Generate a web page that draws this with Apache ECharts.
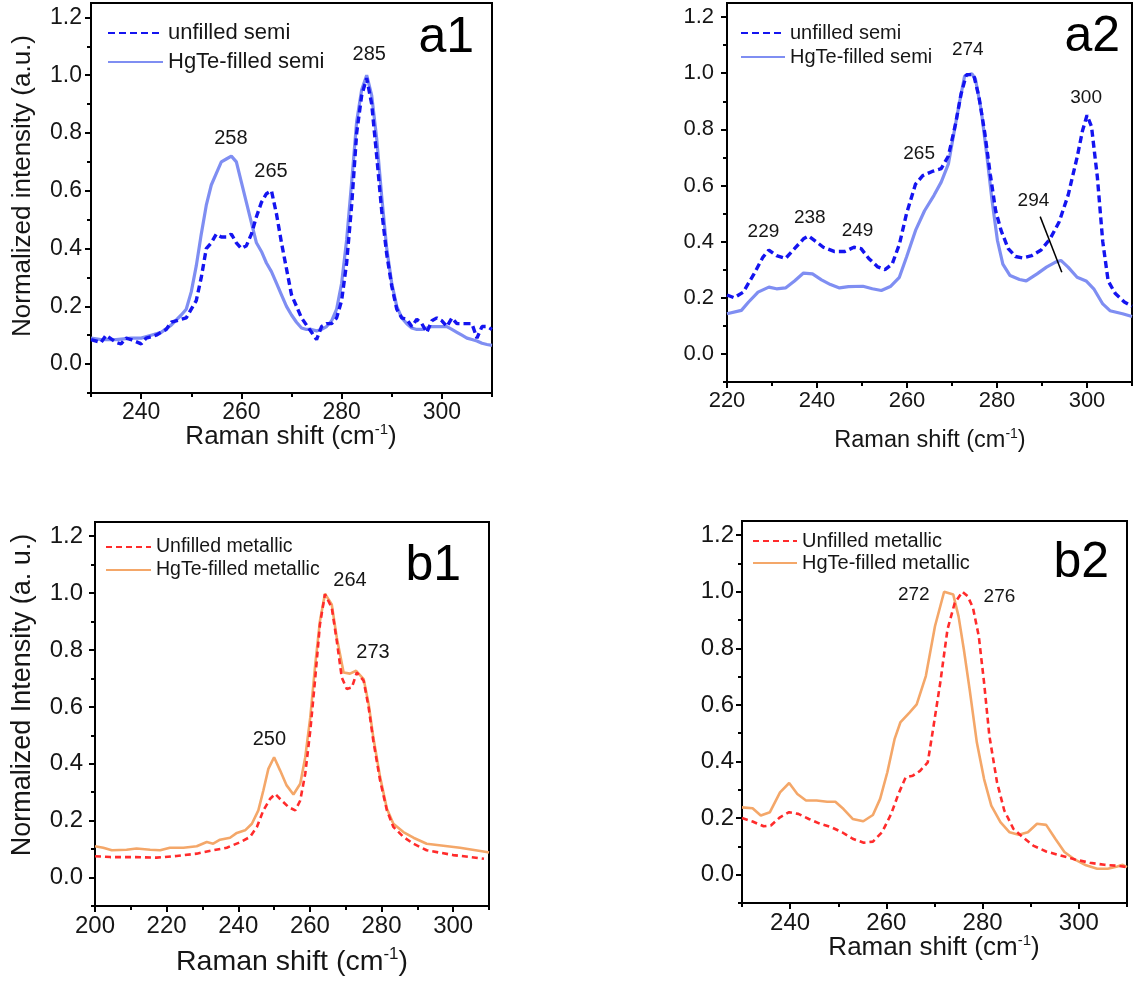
<!DOCTYPE html>
<html>
<head>
<meta charset="utf-8">
<title>Raman spectra of unfilled and HgTe-filled nanotubes</title>
<script src="https://cdn.jsdelivr.net/npm/echarts@6/dist/echarts.min.js"></script>
<style>
  html, body { margin: 0; padding: 0; background: #fff; }
  #chart { width: 1133px; height: 981px; }
</style>
</head>
<body>
<div id="chart"></div>
<script>
// ---------------- spectra: [Raman shift (cm-1), normalized intensity] ----------------
const a1Unfilled = [[230,0.085],[232,0.075],[233,0.10],[235,0.075],[236,0.07],[237,0.09],[238,0.085],[240,0.07],[241,0.09],[243,0.10],[245,0.12],[246,0.145],[248,0.155],[249,0.16],[250,0.19],[251,0.22],[252,0.30],[253,0.40],[254,0.42],[255,0.45],[256,0.44],[257,0.44],[258,0.45],[259,0.42],[260,0.40],[261,0.41],[262,0.45],[263,0.51],[264,0.56],[265,0.59],[266,0.60],[267,0.52],[268,0.42],[269,0.33],[270,0.24],[271,0.20],[272,0.16],[273,0.135],[274,0.11],[275,0.085],[276,0.13],[277,0.14],[278,0.14],[279,0.16],[280,0.22],[281,0.35],[282,0.55],[283,0.80],[284,0.93],[285,0.99],[286,0.90],[287,0.72],[288,0.53],[289,0.38],[290,0.27],[291,0.19],[292,0.16],[293,0.155],[294,0.13],[295,0.155],[296,0.14],[297,0.11],[298,0.15],[299,0.16],[300,0.15],[301,0.13],[302,0.16],[303,0.14],[304,0.14],[305,0.14],[306,0.14],[307,0.09],[308,0.13],[309,0.13],[310,0.12]];
const a1Filled = [[230,0.09],[232,0.085],[235,0.085],[238,0.09],[240,0.09],[242,0.10],[244,0.11],[246,0.135],[248,0.17],[249,0.19],[250,0.25],[251,0.34],[252,0.45],[253,0.55],[254,0.62],[255,0.66],[256,0.70],[257,0.71],[258,0.72],[259,0.70],[260,0.63],[261,0.56],[262,0.49],[263,0.42],[264,0.39],[265,0.35],[266,0.32],[267,0.28],[268,0.24],[269,0.20],[270,0.17],[271,0.145],[272,0.125],[273,0.12],[274,0.12],[275,0.115],[276,0.12],[277,0.13],[278,0.15],[279,0.19],[280,0.28],[281,0.43],[282,0.63],[283,0.84],[284,0.95],[285,1.0],[286,0.93],[287,0.78],[288,0.58],[289,0.40],[290,0.28],[291,0.20],[292,0.16],[293,0.14],[294,0.125],[295,0.12],[296,0.12],[297,0.125],[298,0.13],[299,0.13],[300,0.13],[301,0.13],[302,0.12],[303,0.11],[304,0.10],[305,0.09],[306,0.085],[307,0.08],[308,0.072],[309,0.068],[310,0.065]];

const a2Unfilled = [[220,0.21],[221.6,0.20],[223.6,0.22],[226,0.285],[228,0.345],[229.3,0.37],[231,0.35],[233,0.34],[235,0.375],[237,0.41],[238.1,0.42],[239.8,0.40],[241.4,0.38],[243.8,0.365],[246.2,0.365],[248.2,0.38],[249.8,0.375],[251.5,0.34],[253.5,0.31],[255.1,0.30],[256.7,0.32],[258.3,0.39],[259.9,0.50],[261.9,0.605],[263.5,0.635],[265.6,0.65],[267.6,0.66],[269.2,0.705],[270.8,0.82],[272,0.925],[273.2,0.995],[274.8,0.995],[276,0.915],[277.3,0.785],[278.5,0.64],[279.7,0.51],[280.9,0.44],[282.5,0.375],[284.1,0.347],[285.7,0.342],[287.7,0.35],[289.8,0.37],[291.8,0.41],[293.8,0.47],[295.8,0.565],[297.8,0.70],[299,0.795],[300,0.85],[301,0.81],[302.3,0.63],[303.5,0.40],[304.7,0.26],[306.3,0.215],[308.3,0.185],[310,0.17]];
const a2Filled = [[220,0.143],[223.2,0.155],[224.8,0.185],[226.9,0.22],[229.3,0.238],[231,0.232],[233,0.235],[235,0.26],[237,0.288],[239,0.285],[241,0.264],[243,0.247],[245,0.235],[247,0.24],[250.2,0.241],[252.3,0.232],[254.3,0.226],[256.3,0.24],[258.3,0.273],[259.9,0.345],[261.9,0.44],[263.9,0.51],[266,0.565],[267.6,0.612],[269.2,0.677],[270.4,0.784],[271.6,0.89],[272.8,0.99],[274.4,0.998],[275.2,0.98],[276.5,0.867],[277.7,0.713],[278.9,0.546],[280.1,0.404],[281.3,0.32],[282.9,0.279],[285,0.265],[286.5,0.26],[288.9,0.285],[291,0.309],[293,0.327],[294.2,0.333],[295.8,0.309],[297.8,0.273],[299.8,0.26],[301.5,0.232],[303.5,0.178],[305.1,0.154],[307.9,0.143],[310,0.133]];

const b1Unfilled = [[200,0.075],[204.2,0.072],[210.7,0.072],[217.2,0.07],[222.8,0.076],[228.4,0.084],[233,0.096],[236.8,0.105],[240.5,0.124],[243.3,0.143],[245.2,0.178],[247,0.236],[248.9,0.277],[250.3,0.294],[252.1,0.271],[254,0.248],[255.9,0.236],[257.3,0.271],[258.7,0.365],[260.1,0.516],[261.5,0.703],[262.8,0.89],[264.2,0.996],[266.1,0.949],[267.5,0.832],[268.9,0.703],[270.3,0.663],[271.7,0.668],[273.1,0.721],[275,0.692],[276.4,0.598],[277.7,0.481],[279.6,0.341],[281.5,0.236],[283.3,0.178],[286.1,0.143],[288.9,0.119],[292.6,0.096],[300,0.079],[305,0.072],[308.6,0.066]];
const b1Filled = [[200,0.11],[202.3,0.105],[204.7,0.096],[208.8,0.098],[211.6,0.102],[215.4,0.098],[218.2,0.096],[220.9,0.105],[224.7,0.105],[228.4,0.11],[231.2,0.125],[233,0.119],[234.9,0.133],[237.7,0.14],[239.6,0.157],[241.9,0.166],[243.8,0.189],[245.6,0.236],[247,0.306],[248.4,0.382],[250,0.423],[251.7,0.376],[253.5,0.324],[255.4,0.292],[257.3,0.33],[258.7,0.423],[260.1,0.563],[261.5,0.75],[262.8,0.902],[264.2,0.998],[266.1,0.96],[267.5,0.844],[269.4,0.721],[271.2,0.717],[272.9,0.727],[275,0.698],[276.4,0.61],[277.7,0.493],[279.6,0.353],[281.5,0.242],[283.3,0.189],[286.1,0.16],[288.9,0.14],[292.6,0.119],[301.9,0.105],[309.3,0.09],[310,0.088]];

const b2Unfilled = [[230,0.2],[232.2,0.188],[234.5,0.171],[236,0.174],[237.9,0.203],[239.8,0.221],[241.7,0.215],[243.9,0.197],[246.2,0.18],[248.5,0.168],[250.8,0.15],[253,0.127],[255.3,0.113],[257.2,0.117],[259.1,0.15],[261,0.215],[262.5,0.285],[264,0.344],[265.5,0.35],[267,0.367],[268.6,0.397],[269.7,0.514],[271.2,0.679],[272.7,0.867],[274.2,0.96],[275.8,1.0],[276.9,0.984],[278,0.943],[279.2,0.843],[280.3,0.679],[281.4,0.491],[283,0.326],[284.5,0.227],[286.4,0.162],[288.3,0.133],[290.5,0.103],[293.2,0.082],[296.2,0.068],[299.2,0.054],[302.3,0.042],[305.3,0.035],[308.3,0.031],[310,0.027]];
const b2Filled = [[230,0.238],[232.2,0.235],[233.9,0.209],[235.8,0.221],[237.9,0.291],[239.8,0.324],[241.5,0.285],[243.3,0.262],[245.5,0.262],[247.7,0.258],[249.4,0.258],[251.1,0.232],[253,0.197],[255.2,0.189],[257.2,0.211],[258.7,0.268],[260.2,0.362],[261.7,0.479],[262.9,0.538],[264.8,0.573],[266.3,0.602],[268.2,0.702],[270.1,0.878],[272,1.0],[273.9,0.99],[275,0.913],[276.1,0.796],[277.3,0.655],[278.8,0.467],[280.3,0.338],[281.8,0.244],[283.7,0.186],[285.6,0.15],[287.5,0.141],[289.4,0.15],[291.3,0.18],[293.2,0.176],[295.1,0.127],[297,0.08],[299.2,0.053],[301.5,0.033],[303.8,0.021],[306,0.021],[308,0.029],[309.1,0.035],[310,0.027]];

// ---------------- peak assignments (cm-1) ----------------
const a1Peaks = [258, 265, 285];
const a2Peaks = [229, 238, 249, 265, 274, 294, 300];
const b1Peaks = [250, 264, 273];
const b2Peaks = [272, 276];

// ---------------- tick labels ----------------
const yTicks = [0, 0.2, 0.4, 0.6, 0.8, 1.0, 1.2];
const yMinorTicks = [-0.1, 0.1, 0.3, 0.5, 0.7, 0.9, 1.1];
const xTicksA = [240, 260, 280, 300];
const xMinorA1 = [230, 250, 270, 290, 310];
const xTicksA2 = [220, 240, 260, 280, 300];
const xMinorA2 = [230, 250, 270, 290, 310];
const xTicksB1 = [200, 220, 240, 260, 280, 300];
const xMinorB1 = [210, 230, 250, 270, 290, 310];
const xTicksB2 = [240, 260, 280, 300];
const xMinorB2 = [230, 250, 270, 290, 310];

// ---------------- styling ----------------
const FONT = '"Liberation Sans", Arial, Helvetica, sans-serif';
const INK = '#161616';
const STYLES = {
  dashBlue:   { color: '#1414f0', width: 3.4, type: [7, 4] },
  solidBlue:  { color: '#7f8ef2', width: 3.2, type: 'solid' },
  dashRed:    { color: '#ff2b2b', width: 2.6, type: [6, 4] },
  solidOrange:{ color: '#f4a769', width: 2.6, type: 'solid' }
};

// label anchors for the peak numbers, in data coordinates
const panels = [
  {
    grid: { left: 91, top: 3, width: 401, height: 390 },
    xMin: 230, xMax: 310, xTicks: xTicksA, xMinor: xMinorA1,
    tickFont: 23, yLabelMargin: 9, xLabelMargin: 8,
    series: [
      { name: 'unfilled semi', data: a1Unfilled, style: 'dashBlue' },
      { name: 'HgTe-filled semi', data: a1Filled, style: 'solidBlue' }
    ],
    legend: { left: 107, top: 22, fontSize: 22, itemWidth: 55, gap: 7 },
    peaks: a1Peaks, peakAt: [[257.9, 0.78], [265.9, 0.666], [285.5, 1.072]], peakFont: 20
  },
  {
    grid: { left: 727, top: 3, width: 405, height: 379 },
    xMin: 220, xMax: 310, xTicks: xTicksA2, xMinor: xMinorA2,
    tickFont: 22, yLabelMargin: 13, xLabelMargin: 8,
    series: [
      { name: 'unfilled semi', data: a2Unfilled, style: 'dashBlue' },
      { name: 'HgTe-filled semi', data: a2Filled, style: 'solidBlue' }
    ],
    legend: { left: 740, top: 23, fontSize: 20, itemWidth: 44, gap: 4 },
    peaks: a2Peaks,
    peakAt: [[228.1, 0.434], [238.4, 0.485], [249, 0.437], [262.7, 0.713], [273.5, 1.083], [288.1, 0.546], [299.8, 0.912]],
    peakFont: 19,
    pointer: [[289.6, 0.489], [294.4, 0.291]]
  },
  {
    grid: { left: 95, top: 522, width: 394, height: 384 },
    xMin: 200, xMax: 310, xTicks: xTicksB1, xMinor: xMinorB1,
    tickFont: 24, yLabelMargin: 12, xLabelMargin: 8,
    series: [
      { name: 'Unfilled metallic', data: b1Unfilled, style: 'dashRed' },
      { name: 'HgTe-filled metallic', data: b1Filled, style: 'solidOrange' }
    ],
    legend: { left: 105, top: 537, fontSize: 19.5, itemWidth: 45, gap: 3 },
    peaks: b1Peaks, peakAt: [[248.7, 0.487], [271.2, 1.045], [277.6, 0.791]], peakFont: 20
  },
  {
    grid: { left: 742, top: 521, width: 385, height: 382 },
    xMin: 230, xMax: 310, xTicks: xTicksB2, xMinor: xMinorB2,
    tickFont: 24, yLabelMargin: 8, xLabelMargin: 8,
    series: [
      { name: 'Unfilled metallic', data: b2Unfilled, style: 'dashRed' },
      { name: 'HgTe-filled metallic', data: b2Filled, style: 'solidOrange' }
    ],
    legend: { left: 752, top: 531, fontSize: 20, itemWidth: 44, gap: 2 },
    peaks: b2Peaks, peakAt: [[265.7, 0.99], [283.5, 0.984]], peakFont: 19
  }
];

const option = {
  backgroundColor: '#ffffff',
  animation: false,
  textStyle: { fontFamily: FONT, color: INK },
  grid: [], xAxis: [], yAxis: [], legend: [], series: [], graphic: []
};

panels.forEach((p, i) => {
  option.grid.push(Object.assign({
    show: true, borderColor: '#000', borderWidth: 2, backgroundColor: 'transparent'
  }, p.grid));

  const axisLine = { show: true, onZero: false, lineStyle: { color: '#000', width: 2 } };
  const hiddenLine = { show: false, onZero: false };
  // main x axis: labelled ticks
  option.xAxis.push({
    type: 'value', gridIndex: i, min: p.xMin, max: p.xMax, position: 'bottom',
    axisLine,
    axisTick: { show: true, inside: false, length: 6, customValues: p.xTicks, lineStyle: { color: '#000', width: 2 } },
    axisLabel: { show: true, customValues: p.xTicks, margin: p.xLabelMargin, fontSize: p.tickFont, fontFamily: FONT, color: INK },
    splitLine: { show: false }
  });
  // minor x ticks
  option.xAxis.push({
    type: 'value', gridIndex: i, min: p.xMin, max: p.xMax, position: 'bottom',
    axisLine: hiddenLine,
    axisTick: { show: true, inside: false, length: 4, customValues: p.xMinor, lineStyle: { color: '#000', width: 2 } },
    axisLabel: { show: false },
    splitLine: { show: false }
  });
  // main y axis
  option.yAxis.push({
    type: 'value', gridIndex: i, min: -0.1, max: 1.25, position: 'left',
    axisLine,
    axisTick: { show: true, inside: false, length: 6, customValues: yTicks, lineStyle: { color: '#000', width: 2 } },
    axisLabel: { show: true, customValues: yTicks, margin: p.yLabelMargin, fontSize: p.tickFont, fontFamily: FONT, color: INK,
      formatter: v => v.toFixed(1) },
    splitLine: { show: false }
  });
  // minor y ticks
  option.yAxis.push({
    type: 'value', gridIndex: i, min: -0.1, max: 1.25, position: 'left',
    axisLine: hiddenLine,
    axisTick: { show: true, inside: false, length: 4, customValues: yMinorTicks, lineStyle: { color: '#000', width: 2 } },
    axisLabel: { show: false },
    splitLine: { show: false }
  });

  const xi = 2 * i, yi = 2 * i;
  p.series.forEach(s => {
    const st = STYLES[s.style];
    option.series.push({
      type: 'line', name: s.name, xAxisIndex: xi, yAxisIndex: yi,
      data: s.data, showSymbol: false, symbol: 'none', smooth: false,
      lineStyle: { color: st.color, width: st.width, type: st.type },
      itemStyle: { color: st.color },
      z: s.style.startsWith('dash') ? 3 : 2
    });
  });

  // peak position labels
  option.series.push({
    type: 'scatter', name: 'peaks-' + i, xAxisIndex: xi, yAxisIndex: yi,
    symbolSize: 1, itemStyle: { color: 'transparent', opacity: 1 }, silent: true,
    data: p.peaks.map((v, k) => ({ value: [p.peakAt[k][0], p.peakAt[k][1], v] })),
    label: {
      show: true, position: 'inside', formatter: d => String(d.value[2]),
      fontSize: p.peakFont, fontFamily: FONT, color: INK
    },
    z: 5
  });

  if (p.pointer) {
    option.series.push({
      type: 'line', name: 'pointer-' + i, xAxisIndex: xi, yAxisIndex: yi,
      data: p.pointer, symbol: 'none', silent: true,
      lineStyle: { color: '#000', width: 1.5 }, z: 6
    });
  }

  option.legend.push({
    orient: 'vertical', left: p.legend.left, top: p.legend.top, padding: 0,
    itemWidth: p.legend.itemWidth, itemHeight: 12, itemGap: p.legend.gap,
    data: p.series.map(s => s.name), selectedMode: false,
    itemStyle: { opacity: 0 },
    textStyle: { fontSize: p.legend.fontSize, lineHeight: p.legend.fontSize, fontFamily: FONT, color: INK }
  });
});

// axis titles and panel tags
function xTitle(cx, cy, size) {
  return {
    type: 'text', x: cx, y: cy, silent: true,
    style: {
      text: '{n|Raman shift (cm}{s|-1}{n|)}', align: 'center', verticalAlign: 'middle',
      rich: {
        n: { fontSize: size, fontFamily: FONT, fill: INK, lineHeight: size * 1.15 },
        s: { fontSize: Math.round(size * 0.58), fontFamily: FONT, fill: INK, verticalAlign: 'top', lineHeight: size * 1.15 }
      }
    }
  };
}
function yTitle(cx, cy, size, text) {
  return {
    type: 'text', x: cx, y: cy, rotation: Math.PI / 2, silent: true,
    style: { text, align: 'center', verticalAlign: 'middle', fontSize: size, fontFamily: FONT, fill: INK }
  };
}
function tag(rx, cy, text) {
  return {
    type: 'text', x: rx, y: cy, silent: true,
    style: { text, align: 'right', verticalAlign: 'middle', fontSize: 50, fontFamily: FONT, fill: '#000' }
  };
}
option.graphic = [
  xTitle(291, 437, 26), xTitle(930, 441, 23.5), xTitle(292, 962, 28.5), xTitle(934, 948, 26),
  yTitle(23, 186, 26, 'Normalized intensity (a.u.)'),
  yTitle(23, 695, 27, 'Normalized Intensity (a. u.)'),
  tag(474, 38, 'a1'), tag(1120, 37, 'a2'), tag(461, 566, 'b1'), tag(1109, 563, 'b2')
];

const chart = echarts.init(document.getElementById('chart'), null, { renderer: 'canvas' });
chart.setOption(option);
</script>
</body>
</html>
